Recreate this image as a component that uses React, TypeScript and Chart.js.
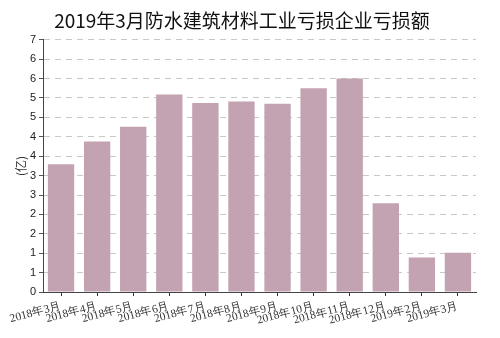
import React, { useEffect, useRef } from "react";
import { Chart, registerables } from "chart.js";

Chart.register(...registerables);

const categories = [
  "2018年3月", "2018年4月", "2018年5月", "2018年6月", "2018年7月", "2018年8月",
  "2018年9月", "2018年10月", "2018年11月", "2018年12月", "2019年2月", "2019年3月",
];
const lossValues = [3.29, 3.88, 4.26, 5.09, 4.87, 4.91, 4.85, 5.25, 5.5, 2.29, 0.89, 1.01];
const chartTitle = "2019年3月防水建筑材料工业亏损企业亏损额";
const yAxisTitle = "(亿)";

export default function App() {
  const ref = useRef<HTMLCanvasElement>(null);
  useEffect(() => {
    if (!ref.current) return;
    const chart = new Chart(ref.current, {
      type: "bar",
      data: {
        labels: categories,
        datasets: [
          {
            data: lossValues,
            backgroundColor: "#c3a2b2",
            borderWidth: 0,
            barPercentage: 0.73,
            categoryPercentage: 1,
          },
        ],
      },
      options: {
        responsive: false,
        animation: false,
        layout: { padding: { left: 8, right: 24, top: 0, bottom: 0 } },
        plugins: {
          legend: { display: false },
          tooltip: { enabled: false },
          title: {
            display: true,
            text: chartTitle,
            color: "#111",
            font: { family: "'Noto Sans CJK SC', sans-serif", size: 19, weight: "normal" },
            padding: { top: 9, bottom: 8 },
          },
        },
        scales: {
          x: {
            offset: true,
            grid: {
              offset: false,
              drawOnChartArea: false,
              drawTicks: true,
              tickLength: 4,
              tickColor: "#333",
            },
            border: { display: true, color: "#444", width: 1 },
            ticks: {
              autoSkip: false,
              minRotation: 15,
              maxRotation: 15,
              padding: 3,
              color: "#333",
              font: { family: "'Liberation Serif', serif", size: 11.5 },
            },
            afterFit: (scale: any) => {
              scale.height = 46;
            },
          },
          y: {
            min: 0,
            max: 6.5,
            grid: {
              color: "#c8c8c8",
              drawTicks: true,
              tickLength: 4,
              tickColor: "#555",
            },
            border: { display: true, color: "#444", width: 1, dash: [6, 5] },
            ticks: {
              stepSize: 0.5,
              padding: 3,
              color: "#222",
              font: { family: "'Liberation Sans', sans-serif", size: 11 },
              callback: (v: any) => String(Math.round(Number(v))),
            },
            title: {
              display: true,
              text: yAxisTitle,
              color: "#333",
              font: { family: "'Noto Sans CJK SC', sans-serif", size: 12 },
              padding: { top: 6, bottom: 0 },
            },
            afterFit: (scale: any) => {
              scale.width = 35;
            },
          },
        },
      },
    });
    return () => chart.destroy();
  }, []);
  return (
    <div style={{ position: "fixed", left: 0, top: 0, width: 500, height: 338, background: "#fff" }}>
      <canvas ref={ref} width={500} height={338} />
    </div>
  );
}
